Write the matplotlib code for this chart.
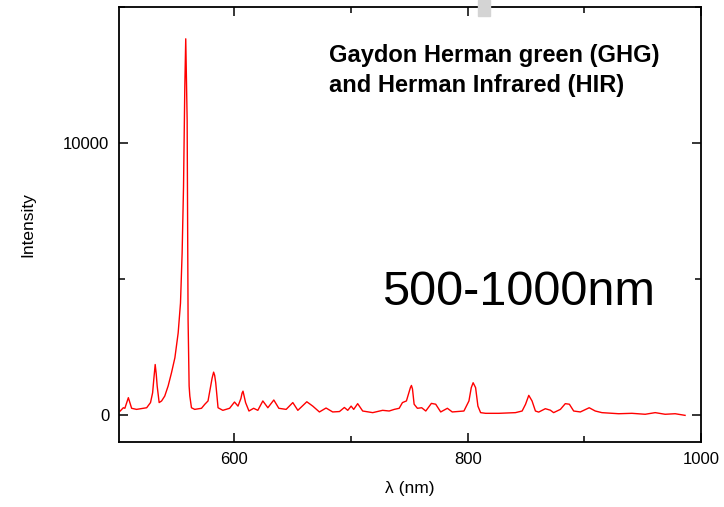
import matplotlib
matplotlib.use('Agg')
import matplotlib.pyplot as plt
from matplotlib.ticker import MultipleLocator
from matplotlib.patches import Rectangle

# Emission spectrum (wavelength nm, intensity)
wavelength = [502, 504.7, 506, 509, 511.8, 516, 521.8, 524.7, 528, 529.8,
              530.8, 532, 532.9, 533.7, 535.4, 537.5, 540.2, 543.1, 546,
              548.9, 551.7, 553.7, 555.1, 556.3, 557.4, 558.2, 559.4, 560.2,
              561.1, 561.7, 563.1, 565.9, 571.7, 574.5, 577.3, 579.6, 580.8,
              582.1, 583, 583.9, 585.9, 590, 595.8, 600, 603, 605.5, 606.5,
              607.3, 608.2, 609.5, 612.4, 616.4, 620, 624.3, 628.6, 633.7,
              638, 644.3, 650, 654.3, 662, 667.1, 672.8, 678.5, 684.2, 690,
              694.2, 697.1, 700, 702.2, 705.6, 709.9, 718.5, 727, 732.6, 737,
              741.2, 744, 747.4, 750.8, 751.7, 752.6, 754, 756.8, 760.5, 764,
              768.8, 772.5, 776.8, 782.5, 786.7, 796.7, 801, 803, 804.6,
              806.7, 808.7, 811, 815.3, 826.6, 840.9, 846.6, 849.5, 852.3,
              855.1, 858, 860.8, 866.5, 870.8, 873.6, 879.4, 883.6, 887.1,
              890.8, 896.5, 904.1, 909.3, 915, 929.3, 940.7, 952.1, 960.7,
              969.2, 977.8, 986.3]
intensity = [140, 260, 240, 630, 240, 200, 240, 260, 450, 810,
             1300, 1850, 1500, 1060, 450, 510, 690, 1060, 1550,
             2100, 3010, 4110, 5950, 8390, 12060, 13830, 10840, 3500,
             1060, 690, 260, 200, 240, 385, 510, 1060, 1350,
             1570, 1450, 1180, 260, 165, 240, 470, 320, 600, 800,
             870, 700, 450, 140, 240, 165, 510, 260, 545,
             240, 200, 450, 165, 480, 320, 105, 250, 105, 120,
             270, 165, 320, 200, 410, 140, 80, 165, 140, 200,
             240, 450, 510, 1000, 1080, 950, 390, 240, 260, 140,
             420, 390, 105, 240, 105, 140, 510, 1000, 1180,
             1000, 320, 80, 55, 55, 80, 140, 385, 715,
             510, 140, 100, 225, 170, 80, 200, 410, 390,
             140, 105, 260, 140, 80, 40, 55, 20, 80,
             20, 40, -20]

x_ticks = [600, 800, 1000]
y_ticks = [0, 10000]

plt.rcParams['font.family'] = ['Liberation Sans', 'DejaVu Sans']

fig = plt.figure(figsize=(7.24, 5.07), dpi=100)
ax = fig.add_axes([0.1644, 0.1282, 0.8039, 0.858])

ax.plot(wavelength, intensity, color='red', lw=1.0)

ax.set_xlim(501, 1000)
ax.set_ylim(-1000, 15000)
ax.set_xticks(x_ticks)
ax.set_yticks(y_ticks)
ax.xaxis.set_minor_locator(MultipleLocator(100))
ax.yaxis.set_minor_locator(MultipleLocator(5000))
ax.tick_params(which='both', direction='in', top=True, right=True,
               width=1.1, labelsize=12, pad=7)
ax.tick_params(which='major', length=6.5)
ax.tick_params(which='minor', length=4)
for spine in ax.spines.values():
    spine.set_linewidth(1.3)

ax.set_xlabel('λ (nm)', fontsize=12.5, labelpad=10)
ax.set_ylabel('Intensity', fontsize=12.5, labelpad=20)

ax.text(681.3, 12960, 'Gaydon Herman green (GHG)', fontsize=17,
        fontweight='bold', va='baseline', ha='left')
ax.text(681.3, 11860, 'and Herman Infrared (HIR)', fontsize=17,
        fontweight='bold', va='baseline', ha='left')
ax.text(726.6, 4050, '500-1000nm', fontsize=35, va='baseline', ha='left')

# small gray artefact at the top edge of the slide
fig.patches.append(Rectangle((478 / 724, 1 - 16 / 507), 12 / 724, 16 / 507,
                             transform=fig.transFigure, color='#d4d4d4',
                             zorder=0))

fig.savefig('out.png', dpi=100)
